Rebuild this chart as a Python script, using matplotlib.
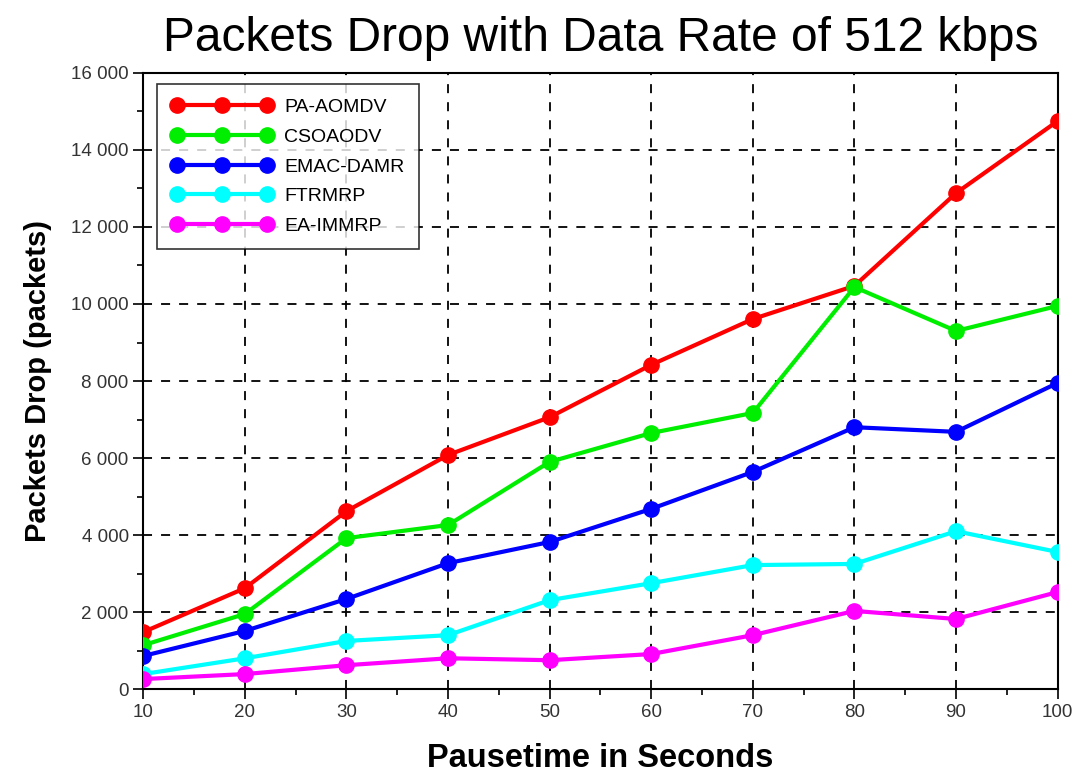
import matplotlib
matplotlib.use("Agg")
import matplotlib.pyplot as plt
from matplotlib.ticker import FuncFormatter, MultipleLocator

pausetime = [10, 20, 30, 40, 50, 60, 70, 80, 90, 100]
pa_aomdv = [1480, 2620, 4620, 6080, 7060, 8420, 9610, 10470, 12880, 14750]
csoaodv = [1140, 1950, 3920, 4260, 5900, 6650, 7170, 10440, 9300, 9950]
emac_damr = [860, 1510, 2340, 3270, 3820, 4680, 5640, 6800, 6680, 7950]
ftrmrp = [390, 800, 1250, 1400, 2310, 2750, 3220, 3250, 4100, 3560]
ea_immrp = [260, 390, 620, 800, 750, 910, 1400, 2030, 1820, 2520]

series = [
    ("PA-AOMDV", pa_aomdv, "#ff0000"),
    ("CSOAODV", csoaodv, "#00ee00"),
    ("EMAC-DAMR", emac_damr, "#0000ff"),
    ("FTRMRP", ftrmrp, "#00ffff"),
    ("EA-IMMRP", ea_immrp, "#ff00ff"),
]

plt.rcParams['font.family'] = ['Liberation Sans', 'DejaVu Sans']

fig = plt.figure(figsize=(10.77, 7.76), dpi=100)
ax = fig.add_axes([0.133, 0.112, 0.849, 0.794])

for name, vals, col in series:
    ax.plot(pausetime, vals, color=col, lw=3, marker='o', ms=11, label=name, zorder=3)

ax.set_xlim(10, 100)
ax.set_ylim(0, 16000)
ax.xaxis.set_major_locator(MultipleLocator(10))
ax.xaxis.set_minor_locator(MultipleLocator(5))
ax.yaxis.set_major_locator(MultipleLocator(2000))
ax.yaxis.set_minor_locator(MultipleLocator(1000))
ax.yaxis.set_major_formatter(FuncFormatter(lambda v, p: f"{int(v):,}".replace(",", " ")))

ax.grid(True, which='major', color='black', linestyle=(0, (5, 5)), lw=1.3, zorder=1)
ax.tick_params(axis='both', which='major', direction='out', length=7, width=1.2,
               labelsize=13.5, labelcolor='#333333')
ax.tick_params(axis='both', which='minor', direction='out', length=4, width=1.2)
for s in ax.spines.values():
    s.set_linewidth(1.5)

ax.set_title("Packets Drop with Data Rate of 512 kbps", fontsize=34.5, pad=16)
ax.set_xlabel("Pausetime in Seconds", fontsize=23.5, fontweight='bold', labelpad=16)
ax.set_ylabel("Packets Drop (packets)", fontsize=21, fontweight='bold', labelpad=14)

leg = ax.legend(loc='upper left', bbox_to_anchor=(0.015, 0.982), numpoints=3,
                fontsize=14, frameon=True, fancybox=False, edgecolor='black',
                handlelength=5.2, handletextpad=0.6, labelspacing=0.62,
                borderpad=0.75, borderaxespad=0)
leg.get_frame().set_linewidth(1.2)

fig.savefig("out.png", dpi=100)
